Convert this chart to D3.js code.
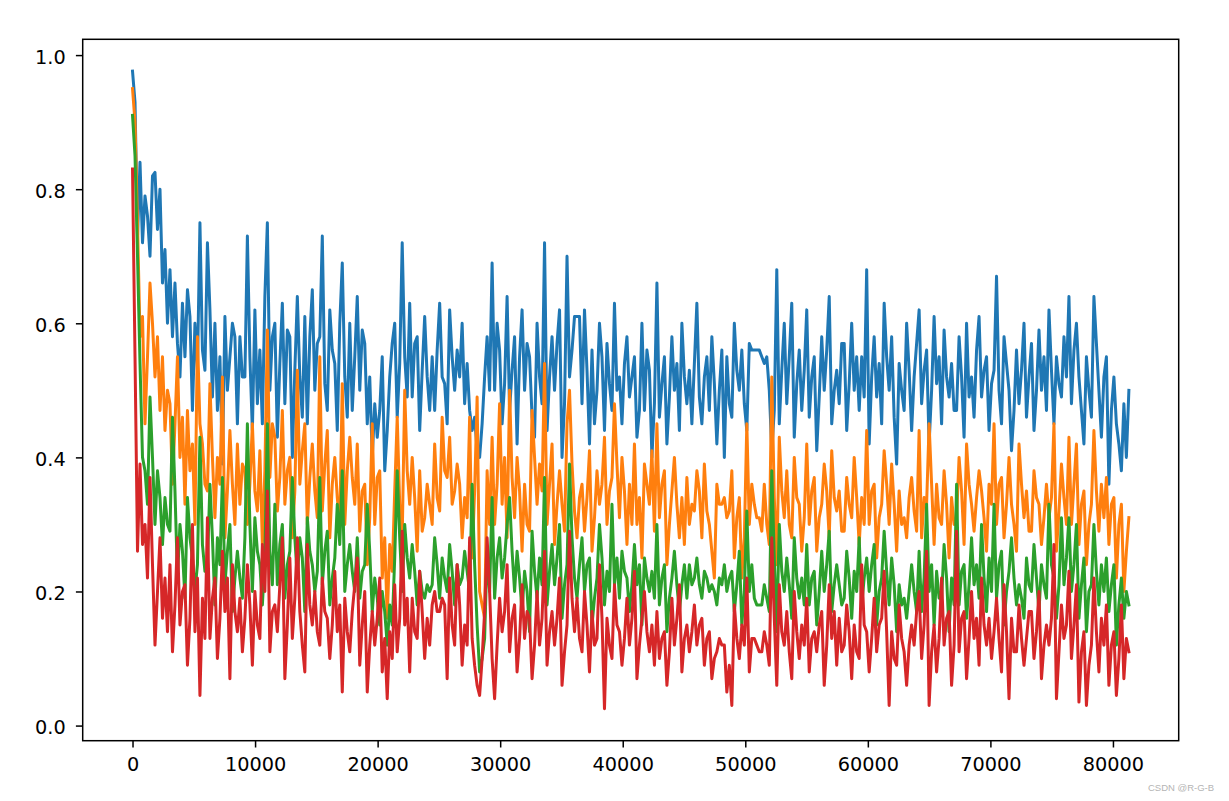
<!DOCTYPE html>
<html>
<head>
<meta charset="utf-8">
<script src="https://cdn.jsdelivr.net/npm/d3@7"></script>
<style>
  html, body { margin: 0; padding: 0; background: #fff; }
  svg { display: block; }
</style>
</head>
<body>
<svg id="chart" width="1229" height="801"></svg>
<script>
// ---- data ----
const lastStep = 81300;
const seriesNames = ["series0", "series1", "series2", "series3"];
const seriesColors = ["#1f77b4", "#ff7f0e", "#2ca02c", "#d62728"];
const xTickValues = [0, 10000, 20000, 30000, 40000, 50000, 60000, 70000, 80000];
const yTickValues = [0.0, 0.2, 0.4, 0.6, 0.8, 1.0];

const blue = [
  0.976, 0.93, 0.73, 0.84, 0.72, 0.79, 0.76, 0.70, 0.82, 0.825, 0.74, 0.80, 0.66, 0.71, 0.60,
  0.68, 0.58, 0.66, 0.57, 0.52, 0.63, 0.55, 0.65, 0.61, 0.47, 0.60, 0.53, 0.75, 0.56, 0.53,
  0.72, 0.62, 0.49, 0.60, 0.47, 0.55, 0.39, 0.61, 0.50, 0.55, 0.60, 0.58, 0.45, 0.58, 0.52,
  0.52, 0.73, 0.55, 0.44, 0.62, 0.48, 0.56, 0.45, 0.64, 0.75, 0.50, 0.58, 0.60, 0.43, 0.54,
  0.63, 0.48, 0.59, 0.58, 0.40, 0.53, 0.64, 0.52, 0.46, 0.61, 0.45, 0.58, 0.65, 0.50, 0.57,
  0.58, 0.73, 0.51, 0.47, 0.62, 0.56, 0.54, 0.44, 0.60, 0.69, 0.52, 0.46, 0.60, 0.47, 0.55,
  0.64, 0.50, 0.59, 0.57, 0.45, 0.52, 0.40, 0.48, 0.43, 0.47, 0.55, 0.38, 0.44, 0.52, 0.57,
  0.60, 0.46, 0.54, 0.72, 0.55, 0.49, 0.63, 0.49, 0.57, 0.58, 0.44, 0.53, 0.61, 0.52, 0.47,
  0.55, 0.47, 0.56, 0.63, 0.52, 0.51, 0.45, 0.62, 0.55, 0.50, 0.56, 0.52, 0.60, 0.48, 0.54,
  0.47, 0.44, 0.46, 0.41, 0.40, 0.45, 0.52, 0.58, 0.50, 0.69, 0.50, 0.60, 0.56, 0.45, 0.51,
  0.64, 0.47, 0.53, 0.58, 0.42, 0.55, 0.62, 0.50, 0.57, 0.55, 0.46, 0.43, 0.60, 0.52, 0.48,
  0.72, 0.44, 0.52, 0.58, 0.50, 0.57, 0.62, 0.40, 0.48, 0.70, 0.52, 0.56, 0.61, 0.61, 0.61,
  0.48, 0.62, 0.53, 0.42, 0.56, 0.45, 0.50, 0.60, 0.55, 0.44, 0.57, 0.51, 0.47, 0.63, 0.50,
  0.52, 0.45, 0.54, 0.58, 0.49, 0.52, 0.55, 0.43, 0.47, 0.60, 0.47, 0.56, 0.53, 0.40, 0.48,
  0.66, 0.46, 0.51, 0.55, 0.42, 0.49, 0.58, 0.50, 0.54, 0.44, 0.60, 0.52, 0.48, 0.53, 0.45,
  0.54, 0.63, 0.49, 0.45, 0.52, 0.55, 0.47, 0.58, 0.51, 0.42, 0.50, 0.56, 0.40, 0.55, 0.48,
  0.46, 0.60, 0.53, 0.50, 0.56, 0.48, 0.44, 0.57, 0.56, 0.56, 0.56, 0.56, 0.55, 0.54, 0.55,
  0.50, 0.41, 0.47, 0.68, 0.45, 0.53, 0.60, 0.48, 0.55, 0.63, 0.43, 0.51, 0.56, 0.47, 0.53,
  0.62, 0.46, 0.52, 0.55, 0.41, 0.49, 0.58, 0.50, 0.56, 0.64, 0.45, 0.50, 0.53, 0.48, 0.57,
  0.57, 0.44, 0.51, 0.60, 0.50, 0.55, 0.47, 0.55, 0.49, 0.68, 0.42, 0.52, 0.58, 0.49, 0.54,
  0.45, 0.63, 0.55, 0.50, 0.58, 0.46, 0.39, 0.54, 0.50, 0.47, 0.60, 0.53, 0.44, 0.52, 0.57,
  0.62, 0.48, 0.53, 0.56, 0.42, 0.50, 0.61, 0.51, 0.55, 0.45, 0.59, 0.52, 0.49, 0.54, 0.47,
  0.47, 0.58, 0.52, 0.43, 0.60, 0.49, 0.52, 0.46, 0.56, 0.61, 0.49, 0.53, 0.55, 0.44, 0.51,
  0.53, 0.67, 0.50, 0.45, 0.58, 0.54, 0.50, 0.41, 0.47, 0.56, 0.48, 0.53, 0.60, 0.46, 0.52,
  0.57, 0.44, 0.50, 0.59, 0.50, 0.55, 0.47, 0.62, 0.53, 0.45, 0.55, 0.51, 0.49, 0.58, 0.52,
  0.64, 0.48, 0.56, 0.60, 0.52, 0.47, 0.42, 0.55, 0.50, 0.46, 0.64, 0.57, 0.50, 0.43, 0.52,
  0.55, 0.36, 0.47, 0.52, 0.45, 0.42, 0.38, 0.48, 0.40, 0.50
];

const orange = [
  0.95, 0.90, 0.75, 0.58, 0.61, 0.45, 0.55, 0.66, 0.60, 0.52, 0.58, 0.47, 0.55, 0.44, 0.50,
  0.48, 0.36, 0.45, 0.55, 0.40, 0.46, 0.33, 0.47, 0.38, 0.42, 0.30, 0.58, 0.45, 0.42, 0.36,
  0.35, 0.51, 0.40, 0.31, 0.40, 0.36, 0.52, 0.28, 0.35, 0.44, 0.36, 0.30, 0.42, 0.33, 0.39,
  0.38, 0.30, 0.36, 0.45, 0.35, 0.32, 0.41, 0.27, 0.38, 0.59, 0.37, 0.45, 0.43, 0.32, 0.37,
  0.47, 0.33, 0.38, 0.40, 0.28, 0.35, 0.53, 0.36, 0.41, 0.45, 0.30, 0.37, 0.42, 0.35, 0.31,
  0.55, 0.32, 0.39, 0.44, 0.28, 0.36, 0.40, 0.34, 0.30, 0.51, 0.30, 0.38, 0.43, 0.37, 0.33,
  0.42, 0.29, 0.35, 0.36, 0.24, 0.31, 0.45, 0.30, 0.37, 0.38, 0.22, 0.28, 0.16, 0.27, 0.23,
  0.35, 0.46, 0.33, 0.28, 0.50, 0.38, 0.33, 0.40, 0.34, 0.26, 0.38, 0.29, 0.31, 0.36, 0.33,
  0.30, 0.42, 0.34, 0.32, 0.46, 0.38, 0.37, 0.43, 0.33, 0.35, 0.39, 0.36, 0.28, 0.34, 0.31,
  0.46, 0.25, 0.35, 0.49, 0.20, 0.18, 0.16, 0.38, 0.30, 0.43, 0.30, 0.36, 0.48, 0.33, 0.40,
  0.28, 0.50, 0.37, 0.31, 0.40, 0.35, 0.26, 0.36, 0.30, 0.29, 0.47, 0.40, 0.33, 0.39, 0.35,
  0.54, 0.30, 0.36, 0.42, 0.27, 0.33, 0.38, 0.33, 0.29, 0.45, 0.50, 0.39, 0.32, 0.28, 0.34,
  0.36, 0.29, 0.34, 0.41, 0.26, 0.31, 0.38, 0.33, 0.36, 0.43, 0.30, 0.35, 0.37, 0.48, 0.39,
  0.31, 0.40, 0.35, 0.27, 0.36, 0.30, 0.42, 0.30, 0.34, 0.25, 0.39, 0.36, 0.33, 0.41, 0.29,
  0.45, 0.31, 0.36, 0.38, 0.24, 0.30, 0.35, 0.40, 0.33, 0.28, 0.34, 0.27, 0.37, 0.30, 0.33,
  0.32, 0.38, 0.35, 0.28, 0.39, 0.32, 0.30, 0.26, 0.22, 0.36, 0.33, 0.33, 0.34, 0.31, 0.32,
  0.38, 0.25, 0.31, 0.34, 0.22, 0.28, 0.45, 0.30, 0.36, 0.33, 0.31, 0.31, 0.29, 0.36, 0.30,
  0.27, 0.52, 0.34, 0.24, 0.43, 0.35, 0.31, 0.38, 0.30, 0.28, 0.40, 0.34, 0.33, 0.26, 0.31,
  0.42, 0.30, 0.35, 0.37, 0.26, 0.31, 0.33, 0.39, 0.35, 0.28, 0.41, 0.34, 0.32, 0.35, 0.29,
  0.29, 0.37, 0.33, 0.31, 0.40, 0.34, 0.27, 0.34, 0.30, 0.44, 0.30, 0.35, 0.36, 0.25, 0.31,
  0.33, 0.41, 0.36, 0.30, 0.39, 0.33, 0.26, 0.35, 0.30, 0.31, 0.28, 0.34, 0.37, 0.32, 0.29,
  0.44, 0.28, 0.34, 0.33, 0.45, 0.36, 0.27, 0.36, 0.31, 0.30, 0.38, 0.33, 0.25, 0.34, 0.30,
  0.31, 0.40, 0.35, 0.27, 0.42, 0.36, 0.33, 0.29, 0.34, 0.38, 0.35, 0.31, 0.26, 0.36, 0.33,
  0.45, 0.30, 0.36, 0.37, 0.28, 0.33, 0.40, 0.33, 0.30, 0.26, 0.42, 0.36, 0.31, 0.35, 0.29,
  0.29, 0.38, 0.34, 0.33, 0.27, 0.31, 0.36, 0.31, 0.34, 0.45, 0.26, 0.32, 0.39, 0.34, 0.30,
  0.43, 0.30, 0.36, 0.42, 0.27, 0.33, 0.35, 0.24, 0.30, 0.33, 0.44, 0.35, 0.29, 0.36, 0.31,
  0.37, 0.27, 0.33, 0.34, 0.22, 0.30, 0.33, 0.20, 0.26, 0.31
];

const green = [
  0.91, 0.85, 0.70, 0.54, 0.40, 0.38, 0.33, 0.49, 0.40, 0.30, 0.38, 0.34, 0.27, 0.34, 0.30,
  0.29, 0.46, 0.35, 0.22, 0.30, 0.26, 0.19, 0.34, 0.28, 0.25, 0.20, 0.24, 0.43, 0.27, 0.23,
  0.24, 0.36, 0.28, 0.18, 0.28, 0.24, 0.37, 0.21, 0.26, 0.30, 0.17, 0.22, 0.26, 0.22, 0.19,
  0.28, 0.45, 0.30, 0.20, 0.31, 0.26, 0.24, 0.18, 0.25, 0.45, 0.26, 0.21, 0.33, 0.21, 0.27,
  0.30, 0.19, 0.24, 0.26, 0.37, 0.28, 0.22, 0.28, 0.25, 0.17, 0.31, 0.26, 0.24, 0.20, 0.23,
  0.37, 0.21, 0.26, 0.29, 0.18, 0.22, 0.25, 0.33, 0.27, 0.38, 0.20, 0.24, 0.27, 0.23, 0.20,
  0.28, 0.19, 0.23, 0.24, 0.33, 0.26, 0.17, 0.22, 0.19, 0.15, 0.20, 0.17, 0.12, 0.18, 0.15,
  0.25, 0.38, 0.28, 0.20, 0.30, 0.25, 0.22, 0.27, 0.23, 0.18, 0.23, 0.20, 0.19, 0.21, 0.20,
  0.21, 0.28, 0.24, 0.19, 0.25, 0.22, 0.20, 0.27, 0.23, 0.18, 0.24, 0.21, 0.22, 0.26, 0.23,
  0.20, 0.36, 0.24, 0.15, 0.08, 0.10, 0.13, 0.26, 0.20, 0.34, 0.19, 0.25, 0.28, 0.22, 0.25,
  0.30, 0.34, 0.26, 0.20, 0.26, 0.22, 0.17, 0.23, 0.20, 0.14, 0.29, 0.23, 0.19, 0.25, 0.21,
  0.37, 0.18, 0.23, 0.27, 0.21, 0.25, 0.30, 0.16, 0.21, 0.24, 0.39, 0.28, 0.22, 0.19, 0.24,
  0.28, 0.20, 0.24, 0.25, 0.15, 0.19, 0.22, 0.30, 0.25, 0.18, 0.23, 0.20, 0.33, 0.21, 0.25,
  0.19, 0.26, 0.23, 0.22, 0.17, 0.21, 0.27, 0.21, 0.24, 0.15, 0.25, 0.22, 0.20, 0.23, 0.19,
  0.30, 0.18, 0.22, 0.24, 0.14, 0.19, 0.22, 0.26, 0.21, 0.17, 0.21, 0.24, 0.19, 0.24, 0.21,
  0.22, 0.25, 0.21, 0.19, 0.23, 0.22, 0.20, 0.21, 0.20, 0.18, 0.22, 0.21, 0.24, 0.20, 0.22,
  0.23, 0.17, 0.21, 0.26, 0.15, 0.20, 0.32, 0.20, 0.24, 0.19, 0.18, 0.18, 0.18, 0.21, 0.19,
  0.17, 0.38, 0.25, 0.14, 0.30, 0.23, 0.20, 0.25, 0.21, 0.16, 0.28, 0.22, 0.19, 0.22, 0.18,
  0.27, 0.18, 0.22, 0.23, 0.15, 0.20, 0.26, 0.20, 0.24, 0.29, 0.17, 0.21, 0.24, 0.21, 0.18,
  0.19, 0.26, 0.22, 0.16, 0.23, 0.20, 0.28, 0.18, 0.22, 0.25, 0.20, 0.24, 0.27, 0.15, 0.20,
  0.22, 0.29, 0.23, 0.18, 0.25, 0.21, 0.14, 0.21, 0.18, 0.19, 0.16, 0.20, 0.24, 0.20, 0.17,
  0.26, 0.17, 0.22, 0.33, 0.20, 0.24, 0.15, 0.23, 0.19, 0.19, 0.27, 0.22, 0.14, 0.22, 0.18,
  0.36, 0.18, 0.23, 0.24, 0.16, 0.21, 0.28, 0.21, 0.24, 0.19, 0.30, 0.22, 0.17, 0.25, 0.20,
  0.33, 0.19, 0.24, 0.26, 0.15, 0.20, 0.23, 0.28, 0.22, 0.18, 0.21, 0.19, 0.16, 0.25, 0.21,
  0.20, 0.27, 0.22, 0.17, 0.24, 0.21, 0.19, 0.33, 0.24, 0.22, 0.16, 0.21, 0.31, 0.21, 0.25,
  0.31, 0.20, 0.24, 0.30, 0.16, 0.21, 0.25, 0.14, 0.20, 0.21, 0.30, 0.23, 0.18, 0.24, 0.20,
  0.25, 0.17, 0.21, 0.24, 0.12, 0.18, 0.22, 0.16, 0.20, 0.18
];

const red = [
  0.83, 0.55, 0.26, 0.39, 0.27, 0.30, 0.22, 0.37, 0.24, 0.12, 0.20, 0.28, 0.16, 0.22, 0.14,
  0.24, 0.11, 0.18, 0.28, 0.15, 0.20, 0.21, 0.09, 0.16, 0.30, 0.14, 0.22, 0.045, 0.19, 0.13,
  0.31, 0.13, 0.19, 0.22, 0.10, 0.16, 0.26, 0.17, 0.22, 0.07, 0.24, 0.17, 0.14, 0.19, 0.11,
  0.16, 0.24, 0.18, 0.09, 0.20, 0.15, 0.13, 0.27, 0.20, 0.35, 0.11, 0.17, 0.18, 0.14, 0.21,
  0.28, 0.07, 0.15, 0.25, 0.13, 0.19, 0.28, 0.17, 0.12, 0.08, 0.27, 0.18, 0.15, 0.20, 0.14,
  0.12, 0.22, 0.17, 0.16, 0.10, 0.15, 0.23, 0.14, 0.18, 0.05, 0.19, 0.14, 0.11, 0.17, 0.21,
  0.25, 0.09, 0.15, 0.20, 0.05, 0.12, 0.17, 0.12, 0.16, 0.22, 0.08, 0.13, 0.04, 0.14, 0.10,
  0.21, 0.11, 0.16, 0.29, 0.15, 0.19, 0.08, 0.19, 0.14, 0.13, 0.23, 0.17, 0.10, 0.16, 0.12,
  0.18, 0.20, 0.17, 0.17, 0.19, 0.18, 0.07, 0.22, 0.15, 0.12, 0.24, 0.18, 0.09, 0.15, 0.12,
  0.28, 0.13, 0.09, 0.06, 0.045, 0.10, 0.17, 0.28, 0.20, 0.10, 0.04, 0.12, 0.19, 0.14, 0.17,
  0.24, 0.11, 0.16, 0.18, 0.08, 0.13, 0.21, 0.13, 0.17, 0.16, 0.07, 0.12, 0.20, 0.12, 0.16,
  0.26, 0.09, 0.14, 0.17, 0.12, 0.16, 0.22, 0.06, 0.11, 0.15, 0.29, 0.19, 0.14, 0.19, 0.13,
  0.11, 0.20, 0.15, 0.08, 0.17, 0.12, 0.13, 0.24, 0.16, 0.025, 0.16, 0.12, 0.10, 0.21, 0.15,
  0.14, 0.09, 0.13, 0.19, 0.12, 0.16, 0.23, 0.07, 0.12, 0.16, 0.20, 0.14, 0.11, 0.15, 0.09,
  0.17, 0.10, 0.13, 0.14, 0.06, 0.11, 0.19, 0.12, 0.16, 0.21, 0.08, 0.13, 0.15, 0.11, 0.14,
  0.18, 0.12, 0.15, 0.16, 0.09, 0.13, 0.14, 0.07, 0.10, 0.11, 0.13, 0.12, 0.12, 0.05, 0.09,
  0.03, 0.18, 0.13, 0.10, 0.15, 0.12, 0.22, 0.08, 0.13, 0.13, 0.12, 0.11, 0.11, 0.14, 0.12,
  0.09, 0.28, 0.16, 0.06, 0.21, 0.14, 0.12, 0.17, 0.11, 0.07, 0.20, 0.14, 0.10, 0.15, 0.12,
  0.19, 0.08, 0.13, 0.14, 0.11, 0.15, 0.17, 0.06, 0.12, 0.21, 0.13, 0.17, 0.09, 0.16, 0.11,
  0.12, 0.18, 0.14, 0.07, 0.15, 0.11, 0.10, 0.24, 0.15, 0.14, 0.08, 0.13, 0.19, 0.11, 0.15,
  0.16, 0.23, 0.14, 0.03, 0.14, 0.10, 0.09, 0.18, 0.13, 0.11, 0.06, 0.12, 0.15, 0.12, 0.17,
  0.20, 0.10, 0.15, 0.26, 0.03, 0.11, 0.15, 0.08, 0.13, 0.22, 0.12, 0.16, 0.17, 0.06, 0.12,
  0.29, 0.11, 0.16, 0.17, 0.07, 0.13, 0.20, 0.13, 0.16, 0.09, 0.22, 0.15, 0.12, 0.16, 0.10,
  0.14, 0.19, 0.13, 0.08, 0.21, 0.14, 0.04, 0.16, 0.11, 0.11, 0.18, 0.13, 0.09, 0.13, 0.17,
  0.17, 0.10, 0.14, 0.20, 0.07, 0.12, 0.15, 0.12, 0.16, 0.27, 0.04, 0.11, 0.18, 0.13, 0.15,
  0.23, 0.10, 0.15, 0.21, 0.035, 0.11, 0.14, 0.03, 0.09, 0.12, 0.22, 0.14, 0.08, 0.16, 0.12,
  0.18, 0.06, 0.12, 0.14, 0.045, 0.10, 0.18, 0.07, 0.13, 0.11
];

const seriesValues = [blue, orange, green, red];
// logged training steps: evenly spaced from 0 to lastStep for each series
const stepsFor = vals => vals.map((_, i) => i * lastStep / (vals.length - 1));

// ---- layout ----
const svg = d3.select("#chart");
const plot = { left: 82.7, top: 39.3, right: 1178.7, bottom: 740.7 };
const fontFamily = "'DejaVu Sans', sans-serif";

// matplotlib-like 5% margins
const xExt = [0, lastStep];
const allVals = seriesValues.flat();
const yExt = d3.extent(allVals);
const xPad = (xExt[1] - xExt[0]) * 0.05;
const yPad = (yExt[1] - yExt[0]) * 0.05;

const x = d3.scaleLinear()
  .domain([xExt[0] - xPad, xExt[1] + xPad])
  .range([plot.left, plot.right]);
const y = d3.scaleLinear()
  .domain([yExt[0] - yPad, yExt[1] + yPad])
  .range([plot.bottom, plot.top]);

svg.append("defs").append("clipPath").attr("id", "clip")
  .append("rect")
  .attr("x", plot.left).attr("y", plot.top)
  .attr("width", plot.right - plot.left).attr("height", plot.bottom - plot.top);

const linesG = svg.append("g").attr("clip-path", "url(#clip)");
seriesValues.forEach((vals, k) => {
  const st = stepsFor(vals);
  const line = d3.line()
    .x((d, i) => x(st[i]))
    .y(d => y(d));
  linesG.append("path")
    .datum(vals)
    .attr("class", seriesNames[k])
    .attr("fill", "none")
    .attr("stroke", seriesColors[k])
    .attr("stroke-width", 3.0)
    .attr("stroke-linejoin", "round")
    .attr("stroke-linecap", "square")
    .attr("d", line);
});

// axes
const xAxis = d3.axisBottom(x).tickValues(xTickValues).tickFormat(d3.format("d"))
  .tickSizeInner(6.8).tickSizeOuter(0).tickPadding(9.5);
const yAxis = d3.axisLeft(y).tickValues(yTickValues).tickFormat(d3.format(".1f"))
  .tickSizeInner(6.8).tickSizeOuter(0).tickPadding(9.5);

const gx = svg.append("g").attr("transform", `translate(0,${plot.bottom})`).call(xAxis);
const gy = svg.append("g").attr("transform", `translate(${plot.left},0)`).call(yAxis);

[gx, gy].forEach(g => {
  g.select(".domain").remove();
  g.selectAll(".tick line").attr("stroke", "#000").attr("stroke-width", 1.5);
  g.selectAll(".tick text")
    .attr("fill", "#000")
    .style("font-family", fontFamily)
    .style("font-size", "19.3px");
});
gx.selectAll(".tick text").attr("dy", null).attr("y", 30).attr("dominant-baseline", "alphabetic");
gy.selectAll(".tick text").attr("dy", null).attr("y", 8).attr("x", -17).attr("dominant-baseline", "alphabetic");

// frame (spines)
svg.append("rect")
  .attr("x", plot.left).attr("y", plot.top)
  .attr("width", plot.right - plot.left).attr("height", plot.bottom - plot.top)
  .attr("fill", "none").attr("stroke", "#000").attr("stroke-width", 1.5);

// watermark
svg.append("text")
  .attr("x", 1148).attr("y", 791)
  .attr("fill", "#b4b4b4")
  .style("font-family", "'Liberation Sans', Arial, sans-serif")
  .style("font-size", "9.5px")
  .text("CSDN @R-G-B");
</script>
</body>
</html>
